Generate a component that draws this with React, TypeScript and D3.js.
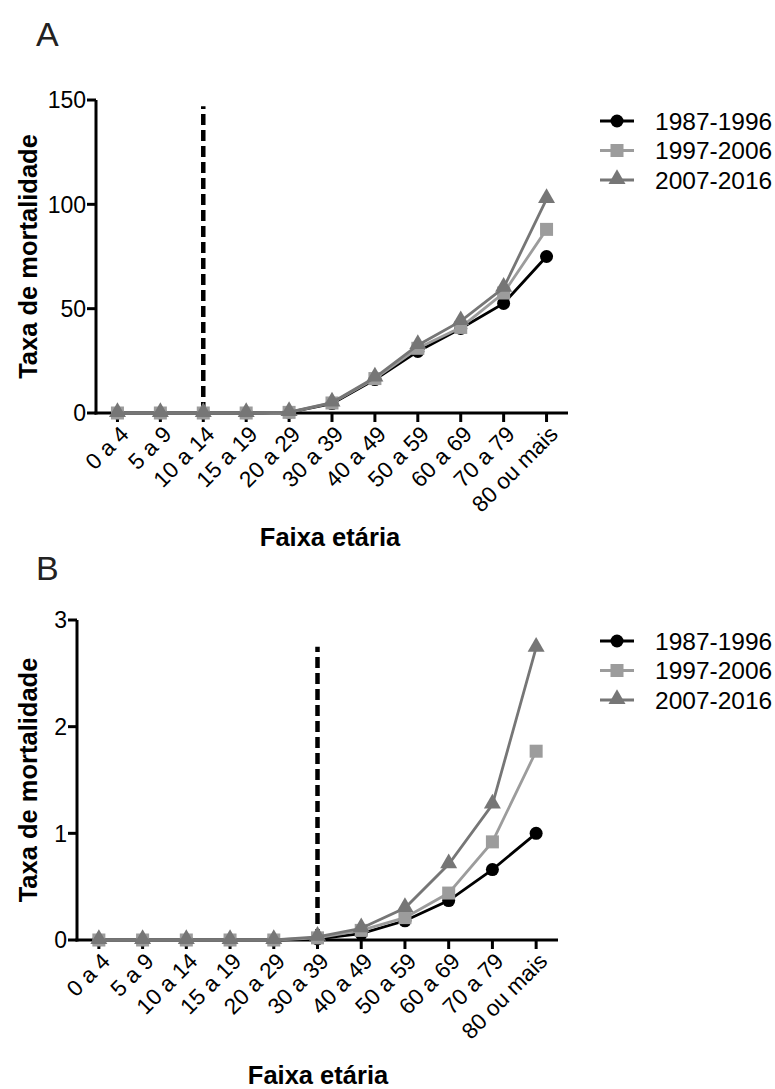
import React from "react";
import * as d3 from "d3";

const ageGroups = ["0 a 4", "5 a 9", "10 a 14", "15 a 19", "20 a 29", "30 a 39", "40 a 49", "50 a 59", "60 a 69", "70 a 79", "80 ou mais"];
const seriesNames = ["1987-1996", "1997-2006", "2007-2016"];

// Panel A
const rateA_1987 = [0, 0, 0, 0, 0.3, 4.5, 16, 29.5, 40.5, 52.5, 75];
const rateA_1997 = [0, 0, 0, 0, 0.3, 4.8, 16.5, 31, 41, 57.5, 88];
const rateA_2007 = [0, 0, 0, 0, 0.4, 5, 17, 32.5, 44, 60, 102.5];
const yTicksA = [0, 50, 100, 150];
const cutoffA = "10 a 14";
const cutoffTopA = 147;

// Panel B
const rateB_1987 = [0, 0, 0, 0, 0, 0.01, 0.06, 0.18, 0.37, 0.66, 1.0];
const rateB_1997 = [0, 0, 0, 0, 0, 0.02, 0.09, 0.21, 0.44, 0.92, 1.77];
const rateB_2007 = [0, 0, 0, 0, 0, 0.03, 0.11, 0.3, 0.71, 1.27, 2.74];
const yTicksB = [0, 1, 2, 3];
const cutoffB = "30 a 39";
const cutoffTopB = 2.75;

const colors = ["#000000", "#9c9c9c", "#767676"];
const FONT = "'Liberation Sans', Arial, Helvetica, sans-serif";

function Marker({ kind, x, y, color }: { kind: number; x: number; y: number; color: string }) {
  if (kind === 0) return <circle cx={x} cy={y} r={6.5} fill={color} />;
  if (kind === 1) return <rect x={x - 6.5} y={y - 6.5} width={13} height={13} fill={color} />;
  const p = d3.symbol().type(d3.symbolTriangle).size(125)();
  return <path d={p as string} transform={`translate(${x},${y - 1})`} fill={color} />;
}

function Panel(props: {
  label: string;
  labelY: number;
  series: number[][];
  yTicks: number[];
  cutoff: string;
  cutoffTop: number;
  x0: number;
  x1: number;
  yBottom: number;
  yTop: number;
  legendY: number;
  titleY: number;
  titleX: number;
}) {
  const { series, yTicks, x0, x1, yBottom, yTop } = props;
  const x = d3.scalePoint<string>().domain(ageGroups).range([x0, x1]).padding(0.5);
  const y = d3.scaleLinear().domain([0, d3.max(yTicks) as number]).range([yBottom, yTop]);
  const line = d3
    .line<number>()
    .x((_, i) => x(ageGroups[i]) as number)
    .y((d) => y(d));
  const cx = x(props.cutoff) as number;
  return (
    <g>
      <text x={36} y={props.labelY} fontSize={34} fontFamily={FONT} fill="#222">
        {props.label}
      </text>
      {/* y axis */}
      <line x1={x0} x2={x0} y1={y(d3.max(yTicks) as number)} y2={yBottom + 1.5} stroke="#000" strokeWidth={3} />
      {yTicks.map((t) => (
        <g key={t}>
          <line x1={x0 - 9} x2={x0} y1={y(t)} y2={y(t)} stroke="#000" strokeWidth={3} />
          <text x={x0 - 10} y={y(t)} dy="0.36em" textAnchor="end" fontSize={23} fontFamily={FONT} fill="#000">
            {t}
          </text>
        </g>
      ))}
      {/* x axis */}
      <line x1={x0 - 1.5} x2={x1} y1={yBottom} y2={yBottom} stroke="#000" strokeWidth={3} />
      {ageGroups.map((g) => (
        <g key={g}>
          <line x1={x(g)} x2={x(g)} y1={yBottom} y2={yBottom + 9} stroke="#000" strokeWidth={3} />
          <text
            transform={`translate(${(x(g) as number) + 7},${yBottom + 17}) rotate(-45)`}
            textAnchor="end"
            dy="0.35em"
            fontSize={22.5}
            fontFamily={FONT}
            fill="#000"
          >
            {g}
          </text>
        </g>
      ))}
      {/* axis titles */}
      <text
        transform={`translate(28,${(yBottom + y(d3.max(yTicks) as number)) / 2}) rotate(-90)`}
        textAnchor="middle"
        dy="0.35em"
        fontSize={25.5}
        fontWeight="bold"
        fontFamily={FONT}
        fill="#000"
      >
        Taxa de mortalidade
      </text>
      <text x={props.titleX} y={props.titleY} textAnchor="middle" fontSize={25.5} fontWeight="bold" fontFamily={FONT} fill="#000">
        Faixa etária
      </text>
      {/* cutoff dashed line */}
      <line x1={cx} x2={cx} y1={yBottom} y2={y(props.cutoffTop)} stroke="#000" strokeWidth={4.5} strokeDasharray="11,5" />
      {/* series */}
      {series.map((s, si) => (
        <g key={si}>
          <path d={line(s) as string} fill="none" stroke={colors[si]} strokeWidth={2.8} />
          {s.map((v, i) => (
            <Marker key={i} kind={si} x={x(ageGroups[i]) as number} y={y(v)} color={colors[si]} />
          ))}
        </g>
      ))}
      {/* legend */}
      {seriesNames.map((n, si) => {
        const ly = props.legendY + si * 29.5;
        return (
          <g key={n}>
            <line x1={600} x2={634} y1={ly} y2={ly} stroke={colors[si]} strokeWidth={2.8} />
            <Marker kind={si} x={617} y={ly} color={colors[si]} />
            <text x={655} y={ly} dy="0.36em" fontSize={24.5} fontFamily={FONT} fill="#000">
              {n}
            </text>
          </g>
        );
      })}
    </g>
  );
}

export default function App() {
  return (
    <svg width={775} height={1089} style={{ position: "absolute", left: 0, top: 0, background: "#fff" }}>
      <rect width={775} height={1089} fill="#fff" />
      <Panel
        label="A"
        labelY={46}
        series={[rateA_1987, rateA_1997, rateA_2007]}
        yTicks={yTicksA}
        cutoff={cutoffA}
        cutoffTop={cutoffTopA}
        x0={96}
        x1={568}
        yBottom={413}
        yTop={100}
        legendY={121}
        titleY={546}
        titleX={330}
      />
      <Panel
        label="B"
        labelY={580}
        series={[rateB_1987, rateB_1997, rateB_2007]}
        yTicks={yTicksB}
        cutoff={cutoffB}
        cutoffTop={cutoffTopB}
        x0={77}
        x1={558}
        yBottom={940}
        yTop={620}
        legendY={641}
        titleY={1084}
        titleX={318}
      />
    </svg>
  );
}
